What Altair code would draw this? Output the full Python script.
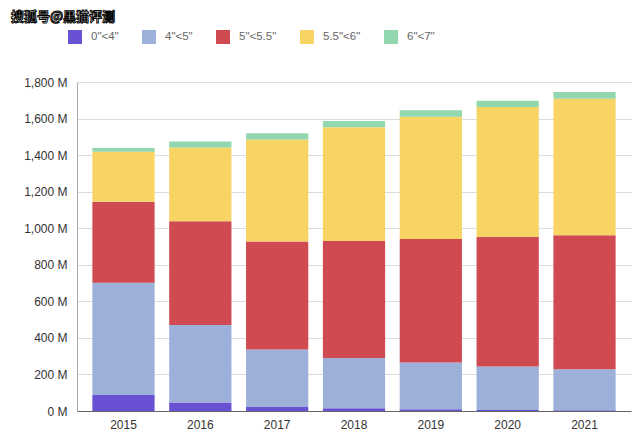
import altair as alt
import pandas as pd

years = ["2015", "2016", "2017", "2018", "2019", "2020", "2021"]
sizes = ['0"<4"', '4"<5"', '5"<5.5"', '5.5"<6"', '6"<7"']
colors = ["#6a51d4", "#9db0d9", "#d04a51", "#f8d464", "#93d7ae"]

# values in millions, per size class, per year
v_0_4 = [88, 46, 22, 15, 9, 6, 4]
v_4_5 = [614, 424, 314, 275, 256, 237, 224]
v_5_55 = [443, 568, 592, 640, 676, 711, 733]
v_55_6 = [274, 403, 558, 622, 669, 709, 748]
v_6_7 = [20, 33, 33, 34, 35, 35, 36]

series = [v_0_4, v_4_5, v_5_55, v_55_6, v_6_7]
rows = []
for i, (s, vals) in enumerate(zip(sizes, series)):
    for y, v in zip(years, vals):
        rows.append({"year": y, "size": s, "value": v, "idx": i})
df = pd.DataFrame(rows)

bars = alt.Chart(df).mark_bar().encode(
    x=alt.X("year:N", sort=years,
            scale=alt.Scale(paddingInner=0.19, paddingOuter=0.2),
            axis=alt.Axis(title=None, labelAngle=0, domain=True, domainColor="#666",
                          ticks=False, labelPadding=8, labelFontSize=12,
                          labelColor="#333", grid=False)),
    y=alt.Y("value:Q", stack="zero",
            scale=alt.Scale(domain=[0, 1800], nice=False),
            axis=alt.Axis(title=None, values=list(range(0, 1801, 200)),
                          labelExpr="format(datum.value, ',') + ' M'",
                          gridColor="#dcdcdc", domainColor="#aaa", ticks=False,
                          labelPadding=10, labelFontSize=12, labelColor="#333")),
    color=alt.Color("size:N", sort=sizes,
                    scale=alt.Scale(domain=sizes, range=colors),
                    legend=alt.Legend(title=None, orient="none", legendX=-9, legendY=-52,
                                      direction="horizontal", columnPadding=23,
                                      labelOffset=9, symbolSize=196, symbolType="square",
                                      symbolStrokeWidth=0, labelFontSize=11.5,
                                      labelColor="#666", padding=0)),
    order=alt.Order("idx:Q", sort="ascending"),
)

wm = alt.Chart(pd.DataFrame({"t": ["搜狐号@黑猫评测"]})).mark_text(
    align="left", baseline="middle", font="Noto Sans CJK SC", fontWeight="bold",
    fontSize=13, fill="#ffffff", stroke="#000000", strokeWidth=1.0,
).encode(text="t:N", x=alt.value(-66), y=alt.value(-65))

chart = alt.layer(bars, wm).properties(
    width=554, height=329,
    autosize=alt.AutoSizeParams(type="none"),
    padding={"left": 69, "top": 74, "right": 2, "bottom": 27},
).configure(font="Liberation Sans").configure_view(stroke=None)

chart.save("out.html", embed_options={"renderer": "svg", "actions": False})
